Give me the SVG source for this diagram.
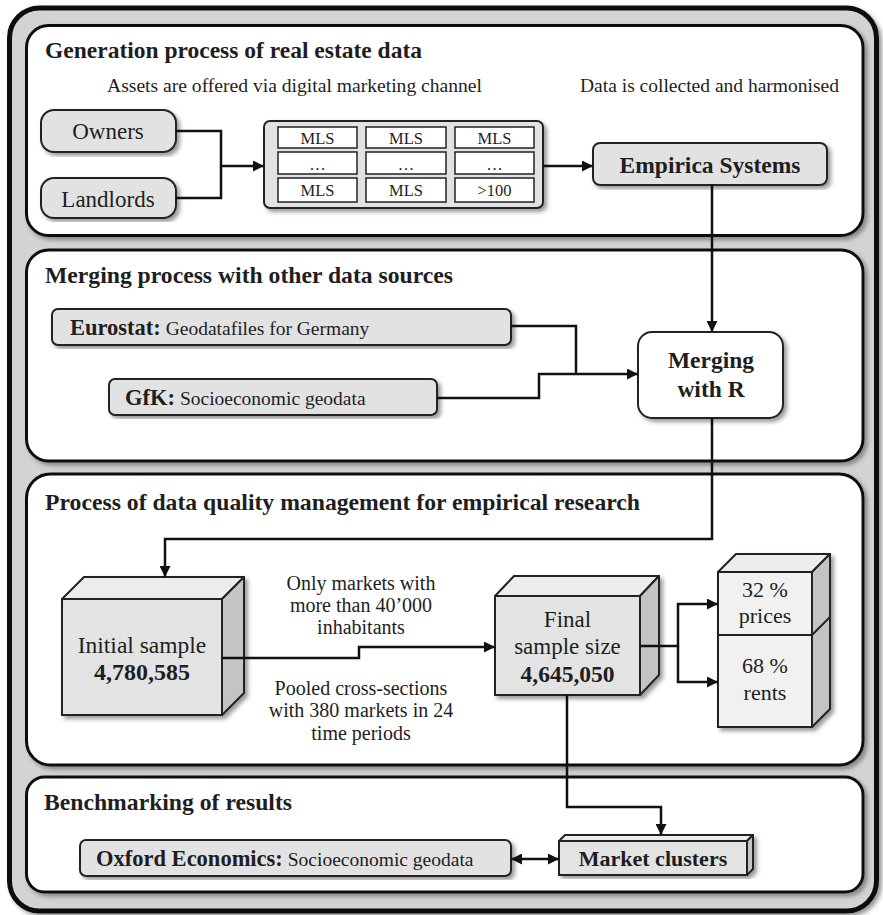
<svg xmlns="http://www.w3.org/2000/svg" width="883" height="915" viewBox="0 0 883 915">
<style>
text{font-family:"Liberation Serif","Times New Roman",serif;fill:#1e1e1e}
.t{font-size:23.5px;font-weight:bold}
.b{font-weight:bold}
.r{font-size:19.5px}
.panel{fill:#fff;stroke:#111;stroke-width:3}
.box{fill:#e2e2e2;stroke:#222;stroke-width:2}
.cell{fill:#fff;stroke:#222;stroke-width:1.5}
.front{fill:#e3e3e3;stroke:#222;stroke-width:2}
.top{fill:#ececec;stroke:#222;stroke-width:2;stroke-linejoin:round}
.side{fill:#c4c4c4;stroke:#222;stroke-width:2;stroke-linejoin:round}
.lf{fill:#f1f1f1;stroke:#222;stroke-width:2}
.c{fill:none;stroke:#111;stroke-width:2.5}
.m{text-anchor:middle}
</style>
<defs>
<marker id="ah" viewBox="0 0 10 10" refX="10" refY="5" markerWidth="4.4" markerHeight="4.4" orient="auto-start-reverse" markerUnits="strokeWidth">
<path d="M0,0 L10,5 L0,10 z" fill="#111"/>
</marker>
<filter id="sh" x="-5%" y="-5%" width="112%" height="115%">
<feDropShadow dx="3" dy="3" stdDeviation="2" flood-color="#555" flood-opacity="0.6"/>
</filter>
</defs>

<g id="frame">
<rect x="9.5" y="8" width="867" height="903" rx="30" fill="#d3d3d3" stroke="#111" stroke-width="5" filter="url(#sh)"/>
</g>

<g id="panel1">
<rect class="panel" x="26.5" y="25.5" width="836.5" height="210" rx="22" filter="url(#sh)"/>
<text class="t" x="45" y="58" textLength="377" lengthAdjust="spacingAndGlyphs">Generation process of real estate data</text>
<text class="r" x="107" y="92" textLength="375" lengthAdjust="spacingAndGlyphs">Assets are offered via digital marketing channel</text>
<text class="r" x="580" y="92" textLength="259" lengthAdjust="spacingAndGlyphs">Data is collected and harmonised</text>
</g>

<g id="owners">
<rect class="box" x="41" y="110" width="135" height="42" rx="13" filter="url(#sh)"/>
<text class="m" x="108" y="139" font-size="23">Owners</text>
</g>
<g id="landlords">
<rect class="box" x="41" y="178" width="135" height="40" rx="13" filter="url(#sh)"/>
<text class="m" x="108" y="207" font-size="23">Landlords</text>
</g>

<g id="mls">
<rect class="box" x="264" y="121" width="279" height="87" rx="6" filter="url(#sh)"/>
<rect class="cell" x="278" y="127" width="79" height="21"/>
<rect class="cell" x="366" y="127" width="80" height="21"/>
<rect class="cell" x="455" y="127" width="79" height="21"/>
<rect class="cell" x="278" y="152" width="79" height="22"/>
<rect class="cell" x="366" y="152" width="80" height="22"/>
<rect class="cell" x="455" y="152" width="79" height="22"/>
<rect class="cell" x="278" y="178" width="79" height="24"/>
<rect class="cell" x="366" y="178" width="80" height="24"/>
<rect class="cell" x="455" y="178" width="79" height="24"/>
<g font-size="16.5">
<text class="m" x="317.5" y="144">MLS</text>
<text class="m" x="406" y="144">MLS</text>
<text class="m" x="494.5" y="144">MLS</text>
<text class="m" x="317.5" y="170">…</text>
<text class="m" x="406" y="170">…</text>
<text class="m" x="494.5" y="170">…</text>
<text class="m" x="317.5" y="196">MLS</text>
<text class="m" x="406" y="196">MLS</text>
<text class="m" x="494.5" y="196">&gt;100</text>
</g>
</g>

<g id="empirica">
<rect class="box" x="593" y="143" width="234" height="42" rx="7" filter="url(#sh)"/>
<text class="t m" x="710" y="173">Empirica Systems</text>
</g>

<g id="panel2">
<rect class="panel" x="26.5" y="250" width="836.5" height="211" rx="22" filter="url(#sh)"/>
<text class="t" x="45" y="283" textLength="408" lengthAdjust="spacingAndGlyphs">Merging process with other data sources</text>
</g>

<g id="eurostat">
<rect class="box" x="52" y="309" width="459" height="36" rx="6" filter="url(#sh)"/>
<text x="70" y="335"><tspan class="b" font-size="22.5">Eurostat:</tspan><tspan font-size="19.5"> Geodatafiles for Germany</tspan></text>
</g>
<g id="gfk">
<rect class="box" x="109" y="379" width="328" height="36" rx="6" filter="url(#sh)"/>
<text x="125" y="405"><tspan class="b" font-size="22.5">GfK:</tspan><tspan font-size="19.5"> Socioeconomic geodata</tspan></text>
</g>

<g id="merging">
<rect x="638" y="332" width="145" height="86" rx="14" fill="#fff" stroke="#222" stroke-width="2" filter="url(#sh)"/>
<text class="t m" x="711" y="368">Merging</text>
<text class="t m" x="711" y="397">with R</text>
</g>

<g id="panel3">
<rect class="panel" x="26.5" y="474" width="836.5" height="291" rx="24" filter="url(#sh)"/>
<text class="t" x="45" y="510" textLength="595" lengthAdjust="spacingAndGlyphs">Process of data quality management for empirical research</text>
<g font-size="20">
<text class="m" x="361" y="590">Only markets with</text>
<text class="m" x="361" y="612">more than 40’000</text>
<text class="m" x="361" y="634">inhabitants</text>
<text class="m" x="361" y="695">Pooled cross-sections</text>
<text class="m" x="361" y="717">with 380 markets in 24</text>
<text class="m" x="361" y="740">time periods</text>
</g>
</g>

<g id="initial">
<g filter="url(#sh)">
<rect class="front" x="62" y="599" width="160" height="116"/>
<polygon class="top" points="62,599 84,577 244,577 222,599"/>
<polygon class="side" points="222,599 244,577 244,693 222,715"/>
</g>
<text class="m" x="142" y="653" font-size="23.5">Initial sample</text>
<text class="m b" x="142" y="680" font-size="24">4,780,585</text>
</g>

<g id="final">
<g filter="url(#sh)">
<rect class="front" x="495" y="596" width="145" height="99"/>
<polygon class="top" points="495,596 514,576 659,576 640,596"/>
<polygon class="side" points="640,596 659,576 659,675 640,695"/>
</g>
<text class="m" x="567.5" y="627" font-size="23">Final</text>
<text class="m" x="567.5" y="654" font-size="23">sample size</text>
<text class="m b" x="567.5" y="682" font-size="23.5">4,645,050</text>
</g>

<g id="split">
<g filter="url(#sh)">
<rect class="lf" x="718" y="572" width="94" height="155"/>
<polygon class="top" points="718,572 736,554 830,554 812,572"/>
<polygon class="side" points="812,572 830,554 830,709 812,727"/>
</g>
<line x1="718" y1="635" x2="812" y2="635" stroke="#222" stroke-width="2"/>
<line x1="812" y1="635" x2="830" y2="617" stroke="#222" stroke-width="2"/>
<text class="m" x="765" y="597" font-size="22">32 %</text>
<text class="m" x="765" y="623" font-size="22">prices</text>
<text class="m" x="765" y="673" font-size="22">68 %</text>
<text class="m" x="765" y="700" font-size="22">rents</text>
</g>

<g id="panel4">
<rect class="panel" x="26.5" y="777" width="836.5" height="115" rx="18" filter="url(#sh)"/>
<text class="t" x="44" y="810" textLength="248" lengthAdjust="spacingAndGlyphs">Benchmarking of results</text>
</g>

<g id="oxford">
<rect class="box" x="80" y="840" width="431" height="36" rx="6" filter="url(#sh)"/>
<text x="96" y="866"><tspan class="b" font-size="22.5">Oxford Economics:</tspan><tspan font-size="19.5"> Socioeconomic geodata</tspan></text>
</g>

<g id="clusters">
<g filter="url(#sh)">
<rect class="front" x="559" y="841" width="188" height="34"/>
<polygon class="top" points="559,841 565,835 753,835 747,841"/>
<polygon class="side" points="747,841 753,835 753,869 747,875"/>
</g>
<text class="m b" x="653" y="866" font-size="22">Market clusters</text>
</g>

<g id="connectors">
<path class="c" d="M176,131 H221 V198 H176"/>
<path class="c" d="M221,166 H264" marker-end="url(#ah)"/>
<path class="c" d="M543,166 H593" marker-end="url(#ah)"/>
<path class="c" d="M712,185 V332" marker-end="url(#ah)"/>
<path class="c" d="M511,326 H576 V374"/>
<path class="c" d="M437,398 H539 V374 H638" marker-end="url(#ah)"/>
<path class="c" d="M712,418 V539 H165 V577" marker-end="url(#ah)"/>
<path class="c" d="M222,658 H359 V647 H495" marker-end="url(#ah)"/>
<path class="c" d="M640,646 H678 V604 H718" marker-end="url(#ah)"/>
<path class="c" d="M678,646 V682 H718" marker-end="url(#ah)"/>
<path class="c" d="M567,695 V807 H661 V835" marker-end="url(#ah)"/>
<path class="c" d="M511,859 H559" marker-start="url(#ah)" marker-end="url(#ah)"/>
</g>
</svg>
